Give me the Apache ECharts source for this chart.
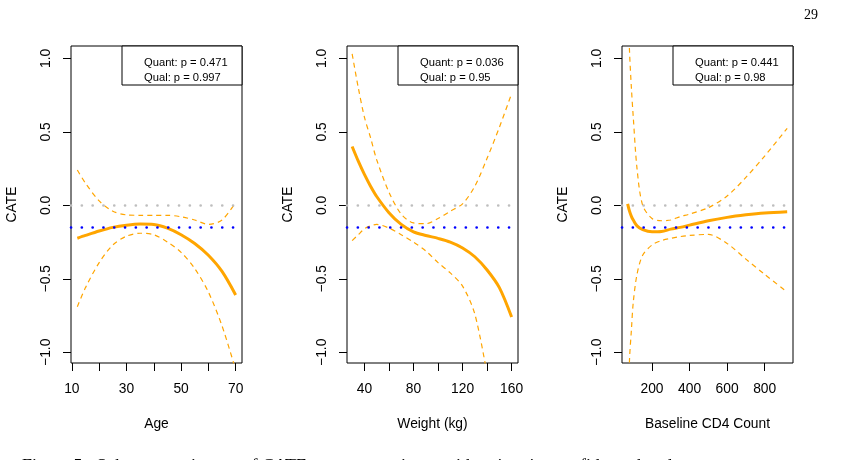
<!DOCTYPE html>
<html>
<head>
<meta charset="utf-8">
<script src="https://cdn.jsdelivr.net/npm/echarts@6/dist/echarts.min.js"></script>
<style>
  html, body { margin: 0; padding: 0; background: #fff; }
  #chart { width: 858px; height: 460px; }
</style>
</head>
<body>
<div id="chart"></div>
<script>
// panel 1: Age
const ageX     = [12, 15, 20, 25, 30, 35, 40, 45, 50, 55, 60, 65, 70];
const ageEst   = [-0.224, -0.205, -0.175, -0.15, -0.135, -0.127, -0.13, -0.155, -0.2, -0.26, -0.34, -0.45, -0.61];
const ageUpper = [0.24, 0.15, 0.03, -0.04, -0.065, -0.068, -0.068, -0.068, -0.078, -0.1, -0.13, -0.1, 0.02];
const ageLower = [-0.69, -0.56, -0.39, -0.27, -0.21, -0.19, -0.2, -0.25, -0.32, -0.43, -0.59, -0.82, -1.12];

// panel 2: Weight (kg)
const wtX     = [30, 35, 40, 45, 50, 60, 70, 80, 90, 100, 110, 120, 130, 140, 150, 160];
const wtEst   = [0.40, 0.30, 0.21, 0.13, 0.06, -0.05, -0.13, -0.18, -0.205, -0.225, -0.25, -0.29, -0.35, -0.44, -0.56, -0.76];
const wtUpper = [1.03, 0.8, 0.6, 0.46, 0.31, 0.09, -0.06, -0.12, -0.125, -0.09, -0.04, 0.01, 0.13, 0.32, 0.53, 0.76];
const wtLower = [-0.24, -0.2, -0.16, -0.14, -0.13, -0.155, -0.2, -0.25, -0.31, -0.39, -0.46, -0.55, -0.74, -1.15, null, null];

// panel 3: Baseline CD4 Count
const cd4X     = [70, 80, 90, 100, 120, 150, 200, 250, 300, 350, 400, 500, 600, 700, 800, 920];
const cd4Est   = [0.01, -0.04, -0.075, -0.1, -0.14, -0.165, -0.18, -0.178, -0.162, -0.15, -0.135, -0.105, -0.082, -0.065, -0.052, -0.043];
const cd4Upper = [1.5, 1.05, 0.8, 0.6, 0.25, 0.0, -0.09, -0.105, -0.1, -0.077, -0.06, -0.016, 0.063, 0.19, 0.335, 0.524];
const cd4Lower = [-1.5, -1.05, -0.85, -0.66, -0.47, -0.34, -0.27, -0.24, -0.225, -0.213, -0.205, -0.198, -0.26, -0.366, -0.47, -0.59];

const yTicks = [-1.0, -0.5, 0.0, 0.5, 1.0];
const zeroLine = 0;
const overallCate = -0.15;

const panels = [
  { name: "Age", x: ageX, est: ageEst, up: ageUpper, lo: ageLower,
    xmin: 9.68, xmax: 72.32, ticks: [10, 20, 30, 40, 50, 60, 70], labels: [10, 30, 50, 70],
    quant: "0.471", qual: "0.997", left: 71 },
  { name: "Weight (kg)", x: wtX, est: wtEst, up: wtUpper, lo: wtLower,
    xmin: 25.8, xmax: 165.2, ticks: [40, 60, 80, 100, 120, 140, 160], labels: [40, 80, 120, 160],
    quant: "0.036", qual: "0.95", left: 347 },
  { name: "Baseline CD4 Count", x: cd4X, est: cd4Est, up: cd4Upper, lo: cd4Lower,
    xmin: 40, xmax: 951, ticks: [200, 400, 600, 800], labels: [200, 400, 600, 800],
    quant: "0.441", qual: "0.98", left: 622 },
];

const FONT = "Liberation Sans, Arial, sans-serif";
const ORANGE = "#FFA500";
const W = 171, TOP = 46, H = 317;

const zip = (xs, ys) => xs.map((x, i) => [x, ys[i]]);

const grids = [], xAxes = [], yAxes = [], series = [], graphics = [];

panels.forEach((p, i) => {
  grids.push({ left: p.left, top: TOP, width: W, height: H,
    show: true, borderColor: "#000", borderWidth: 1, backgroundColor: "transparent" });

  xAxes.push({
    type: "value", gridIndex: i, min: p.xmin, max: p.xmax,
    name: p.name, nameLocation: "middle", nameGap: 54,
    nameTextStyle: { color: "#000", fontFamily: FONT, fontSize: 13.8 },
    axisLine: { show: false, onZero: false },
    axisTick: { show: true, inside: false, length: 8, customValues: p.ticks,
      lineStyle: { color: "#000", width: 1 } },
    axisLabel: { customValues: p.labels, margin: 19, color: "#000",
      fontFamily: FONT, fontSize: 13.8 },
    splitLine: { show: false },
  });

  yAxes.push({
    type: "value", gridIndex: i, min: -1.073, max: 1.084,
    name: "CATE", nameLocation: "middle", nameGap: 52, nameRotate: 90,
    nameTextStyle: { color: "#000", fontFamily: FONT, fontSize: 13.8 },
    axisLine: { show: false, onZero: false },
    axisTick: { show: true, inside: false, length: 8, customValues: yTicks,
      lineStyle: { color: "#000", width: 1 } },
    axisLabel: { customValues: yTicks, rotate: 90, margin: 18, color: "#000",
      fontFamily: FONT, fontSize: 13.8,
      formatter: v => v.toFixed(1).replace("-", "\u2212") },
    splitLine: { show: false },
  });

  series.push({
    type: "line", xAxisIndex: i, yAxisIndex: i, data: zip(p.x, p.up),
    showSymbol: false, smooth: 0.3, silent: true, z: 3,
    lineStyle: { color: ORANGE, width: 1.2, type: [5, 4] },
  });
  series.push({
    type: "line", xAxisIndex: i, yAxisIndex: i, data: zip(p.x, p.lo),
    showSymbol: false, smooth: 0.3, silent: true, z: 3, connectNulls: false,
    lineStyle: { color: ORANGE, width: 1.2, type: [5, 4] },
  });
  series.push({
    type: "line", xAxisIndex: i, yAxisIndex: i, data: zip(p.x, p.est),
    showSymbol: false, smooth: 0.3, silent: true, z: 4,
    lineStyle: { color: ORANGE, width: 3 },
    markLine: {
      silent: true, symbol: "none", label: { show: false },
      data: [
        { yAxis: zeroLine, lineStyle: { color: "#BEBEBE", width: 2.6, type: [0.1, 10.7], cap: "round" } },
        { yAxis: overallCate, lineStyle: { color: "#0000FF", width: 2.6, type: [0.1, 10.7], cap: "round" } },
      ],
    },
  });

  // legend box in the top-right corner of each panel
  const boxW = 120;
  const bx = p.left + W - boxW;
  graphics.push({ type: "rect", shape: { x: bx, y: TOP, width: boxW, height: 39 },
    style: { fill: "#fff", stroke: "#000", lineWidth: 1 }, z: 10 });
  graphics.push({ type: "text", x: bx + 22, y: TOP + 17, z: 11,
    style: { text: "Quant: p = " + p.quant, fill: "#000", font: "11.2px " + FONT, verticalAlign: "middle" } });
  graphics.push({ type: "text", x: bx + 22, y: TOP + 32, z: 11,
    style: { text: "Qual: p = " + p.qual, fill: "#000", font: "11.2px " + FONT, verticalAlign: "middle" } });
});

graphics.push({ type: "text", x: 804, y: 8,
  style: { text: "29", fill: "#000", font: "14px Liberation Serif, serif" } });
graphics.push({ type: "text", x: 22, y: 458, z: 20,
  style: { text: "Figure 5:  Subgroup estimates of CATE across covariates, with pointwise confidence bands.",
    fill: "#000", font: "18px Liberation Serif, serif", verticalAlign: "top" } });

const chart = echarts.init(document.getElementById("chart"), null, { renderer: "canvas" });
chart.setOption({
  animation: false,
  backgroundColor: "#fff",
  grid: grids,
  xAxis: xAxes,
  yAxis: yAxes,
  series: series,
  graphic: graphics,
});
</script>
</body>
</html>
